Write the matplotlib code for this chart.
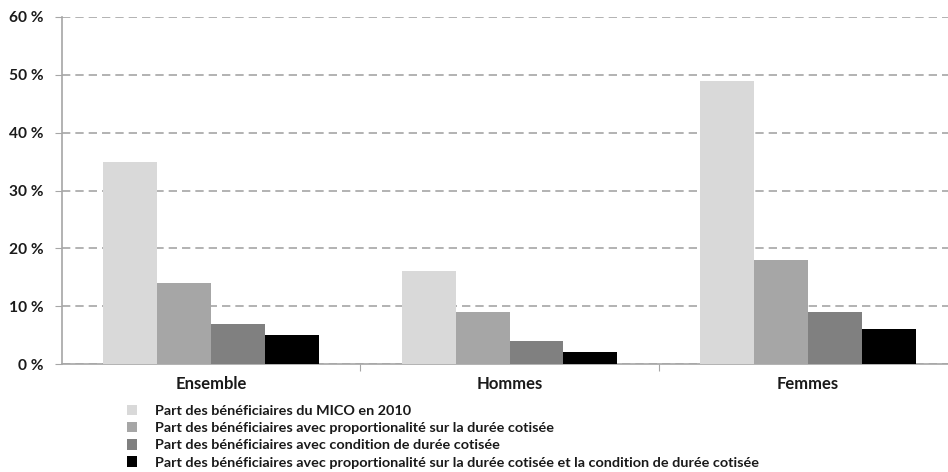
import matplotlib
matplotlib.use("Agg")
import matplotlib.pyplot as plt
import numpy as np
from matplotlib.patches import Patch

categories = ["Ensemble", "Hommes", "Femmes"]
series_names = [
    "Part des bénéficiaires du MICO en 2010",
    "Part des bénéficiaires avec proportionalité sur la durée cotisée",
    "Part des bénéficiaires avec condition de durée cotisée",
    "Part des bénéficiaires avec proportionalité sur la durée cotisée et la condition de durée cotisée",
]
mico_2010 = [35, 16, 49]
proportionalite = [14, 9, 18]
condition_duree = [7, 4, 9]
proportionalite_et_condition = [5, 2, 6]
yticks = [0, 10, 20, 30, 40, 50, 60]
ytick_labels = ["0 %", "10 %", "20 %", "30 %", "40 %", "50 %", "60 %"]

colors = ["#D9D9D9", "#A6A6A6", "#808080", "#000000"]
series = [mico_2010, proportionalite, condition_duree, proportionalite_et_condition]

plt.rcParams["font.family"] = ["Lato", "DejaVu Sans"]

W, H = 948, 472
fig = plt.figure(figsize=(W / 100, H / 100), dpi=100)
left, right = 62, 957
top, bottom = 17, 364
ax = fig.add_axes([left / W, 1 - bottom / H, (right - left) / W, (bottom - top) / H])

x = np.arange(len(categories))
bw = 0.181
for i, (vals, c) in enumerate(zip(series, colors)):
    ax.bar(x + (i - 1.5) * bw, vals, width=bw, color=c, zorder=3, linewidth=0)

ax.set_xlim(-0.5, 2.5)
ax.set_ylim(0, 60)
ax.set_yticks(yticks)
ax.set_yticklabels(ytick_labels, fontsize=11.2, fontweight="bold", color="#1a1a1a")
ax.yaxis.grid(True, linestyle=(0, (5, 3)), color="#A6A6A6", linewidth=1.2, zorder=0)
ax.set_axisbelow(True)

ax.set_xticks([0.5, 1.5])
ax.set_xticklabels([])
ax.tick_params(axis="x", length=5, color="#A6A6A6", direction="out")
ax.tick_params(axis="y", length=5, color="#A6A6A6", direction="out", pad=8)
for i, cat in enumerate(categories):
    ax.text(i, -2.0, cat, ha="center", va="top", fontsize=12, fontweight="bold",
            color="#1a1a1a")

for s in ["top", "right"]:
    ax.spines[s].set_visible(False)
for s in ["left", "bottom"]:
    ax.spines[s].set_color("#A6A6A6")
    ax.spines[s].set_linewidth(1.2)

handles = [Patch(facecolor=c, edgecolor="none") for c in colors]
leg = fig.legend(handles, series_names, loc="upper left",
                 bbox_to_anchor=(127 / W, 1 - 405 / H), frameon=False,
                 prop={"size": 10.4, "weight": "bold"}, handlelength=0.72,
                 handleheight=0.72, handletextpad=1.25, labelspacing=0.34,
                 borderaxespad=0, borderpad=0)
for t in leg.get_texts():
    t.set_color("#1a1a1a")

fig.savefig("out.png", dpi=100)
